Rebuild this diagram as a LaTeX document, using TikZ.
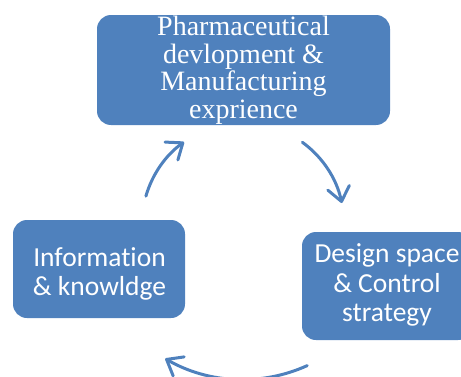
\documentclass[tikz,border=0pt]{standalone}
\usepackage{fontspec}
\usetikzlibrary{arrows.meta,calc}
\newfontfamily\tnrfont{Liberation Serif}
\newfontfamily\calfont[Ligatures=NoCommon]{Carlito}
\definecolor{ofblue}{RGB}{79,129,189}
\begin{document}
\begin{tikzpicture}[x=1pt,y=1pt,
  boxnode/.style={fill=ofblue,rounded corners=14pt,inner sep=0pt,draw=none},
  serlabel/.style={text=white,align=center,inner sep=0pt,font=\tnrfont\fontsize{28pt}{27.5pt}\selectfont},
  callabel/.style={text=white,align=center,inner sep=0pt,font=\calfont\fontsize{27.5pt}{29.5pt}\selectfont},
  cyc/.style={draw=ofblue,line width=3pt,line cap=round,-{Straight Barb[length=14pt,width=22pt,line cap=round,line join=round]}}]
\clip (0,0) rectangle (461,376);
\useasboundingbox (0,0) rectangle (461,376);
% boxes
\node[boxnode,minimum width=293pt,minimum height=110pt] (topbox) at (243.5,306) {};
\node[boxnode,minimum width=172pt,minimum height=98pt] (leftbox) at (99,107) {};
\node[boxnode,minimum width=170pt,minimum height=108pt] (rightbox) at (387,90) {};
% labels
\node[serlabel] (toplabel) at (243.5,305.5) {Pharmaceutical\\devlopment \&\\Manufacturing\\exprience};
\node[callabel] (leftlabel) at (99.5,102) {Information\\\& knowldge};
\node[callabel] (rightlabel) at (387,90.75) {Design space\\\& Control\\strategy};
% cycle arrows
\coordinate (cc) at (243,152);
\coordinate (a1) at ($(cc)+(164:101)$);
\coordinate (a2) at ($(cc)+(54:101)$);
\coordinate (a3) at ($(cc)+(-65.6:155.5)$);
\draw[cyc] (a1) arc[start angle=164,end angle=125.7,radius=101];
\draw[cyc] (a2) arc[start angle=54,end angle=12,radius=101];
\draw[cyc] (a3) arc[start angle=-65.6,end angle=-120,radius=155.5];
\end{tikzpicture}
\end{document}
